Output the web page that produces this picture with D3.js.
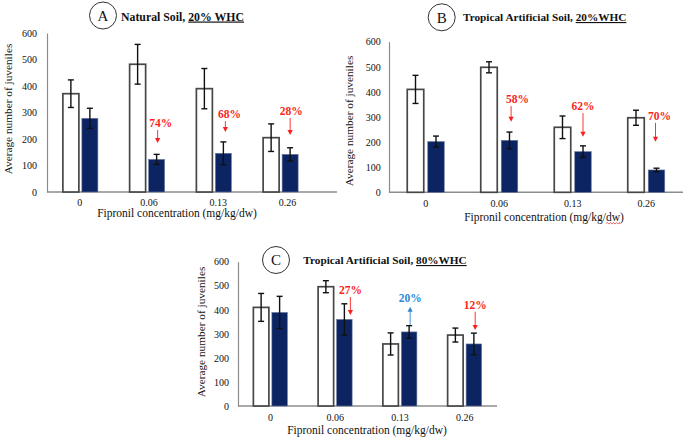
<!DOCTYPE html>
<html><head><meta charset="utf-8">
<script src="https://cdn.jsdelivr.net/npm/d3@7"></script>
<style>
html,body{margin:0;padding:0;background:#fff;}
svg{display:block;}
text{font-family:"Liberation Serif","Times New Roman",serif;}
</style></head>
<body><svg id="c" width="685" height="437"></svg>
<script>
// ---------- data ----------
const categories = ["0", "0.06", "0.13", "0.26"];
const yTicks = [0, 100, 200, 300, 400, 500, 600];

// Panel A: Natural Soil, 20% WHC
const naturalControl = [371, 482, 390, 205];
const naturalControlErr = [52, 75, 76, 52];
const naturalFipronil = [278, 123, 146, 142];
const naturalFipronilErr = [38, 19, 43, 25];
const naturalNotes = ["", "74%", "68%", "28%"];

// Panel B: Tropical Artificial Soil, 20% WHC
const tas20Control = [410, 498, 259, 297];
const tas20ControlErr = [56, 22, 45, 30];
const tas20Fipronil = [202, 207, 162, 89];
const tas20FipronilErr = [22, 33, 23, 7];
const tas20Notes = ["", "58%", "62%", "70%"];

// Panel C: Tropical Artificial Soil, 80% WHC
const tas80Control = [410, 496, 258, 295];
const tas80ControlErr = [58, 25, 46, 29];
const tas80Fipronil = [389, 360, 308, 258];
const tas80FipronilErr = [67, 65, 26, 45];
const tas80Notes = ["", "27%", "20%", "12%"];

const xTitle = "Fipronil concentration (mg/kg/dw)";
const yTitle = "Average number of juveniles";

// ---------- layout ----------
const NAVY = "#0c2461", RED = "#fb1f1f", BLUE = "#2f86d1";
const panels = [
  { letter: "A", pre: "Natural Soil, ", ul: "20% WHC",
    control: naturalControl, controlErr: naturalControlErr,
    treat: naturalFipronil, treatErr: naturalFipronilErr, notes: naturalNotes,
    x0: 47, x1: 314, axisEnd: 337, lab0: 45, lab1: 322, yTop: 33, yBot: 192,
    barW: 16, gap: 3,
    circle: [103, 15.5], titleX: 121, titleY: 20.5, titleSize: 11.8,
    yLab: [8, 109], xLab: [177, 217], tickY: 206, tickRight: 37, squiggle: false,
    ann: [null,
      { tip: 185, len: 13, dx: 1, tdx: 4, dir: "down", color: RED },
      { tip: 226, len: 11, dx: 2, tdx: 6, dir: "down", color: RED },
      { tip: 215, len: 17, dx: 0, tdx: 1, dir: "down", color: RED }] },
  { letter: "B", pre: "Tropical Artificial Soil, ", ul: "20%WHC",
    control: tas20Control, controlErr: tas20ControlErr,
    treat: tas20Fipronil, treatErr: tas20FipronilErr, notes: tas20Notes,
    x0: 389, x1: 683, axisEnd: 683, lab0: 389, lab1: 683, yTop: 41.7, yBot: 192.3,
    barW: 16.5, gap: 4,
    circle: [441.7, 17.3], titleX: 463, titleY: 21, titleSize: 11.25,
    yLab: [349.5, 121], xLab: [544, 221], tickY: 207, tickRight: 380.7, squiggle: true,
    ann: [null,
      { tip: 281, len: 15.7, dx: 1.6, tdx: 8, dir: "down", color: RED },
      { tip: 221, len: 23.7, dx: 0, tdx: 0, dir: "down", color: RED },
      { tip: 201, len: 19, dx: -1, tdx: 3, dir: "down", color: RED }] },
  { letter: "C", pre: "Tropical Artificial Soil, ", ul: "80%WHC",
    control: tas80Control, controlErr: tas80ControlErr,
    treat: tas80Fipronil, treatErr: tas80FipronilErr, notes: tas80Notes,
    x0: 238, x1: 497, axisEnd: 497, lab0: 238, lab1: 497, yTop: 261.7, yBot: 406,
    barW: 15.5, gap: 3,
    circle: [276, 260], titleX: 303.3, titleY: 264, titleSize: 11.25,
    yLab: [201.5, 332], xLab: [367, 433.5], tickY: 421, tickRight: 229, squiggle: false,
    ann: [null,
      { tip: 378, len: 18, dx: 6, tdx: 6, dir: "down", color: RED },
      { tip: 337, len: 18.3, dx: 1, tdx: 1, dir: "up", color: BLUE },
      { tip: 316, len: 18.3, dx: 1.3, tdx: 1.3, dir: "down", color: RED }] }
];

const svg = d3.select("#c");

panels.forEach(p => {
  const g = svg.append("g");
  const x = d3.scaleBand().domain(categories).range([p.x0, p.x1]);
  const xl = d3.scaleBand().domain(categories).range([p.lab0, p.lab1]);
  const y = d3.scaleLinear().domain([0, 600]).range([p.yBot, p.yTop]);

  // y axis
  const ya = g.append("g").attr("transform", `translate(${p.x0},0)`)
    .call(d3.axisLeft(y).tickValues(yTicks).tickSize(0).tickPadding(p.x0 - p.tickRight));
  ya.select(".domain").attr("stroke", "#8c8c8c").attr("stroke-width", 1.2);
  ya.selectAll("text").attr("font-size", 10).attr("fill", "#111")
    .attr("font-family", "'Liberation Serif',serif");

  // x axis line
  g.append("line").attr("x1", p.x0).attr("x2", p.axisEnd)
    .attr("y1", y(0)).attr("y2", y(0)).attr("stroke", "#8c8c8c").attr("stroke-width", 1.4);
  // x tick labels
  const xa = g.append("g").attr("transform", `translate(0,${y(0)})`)
    .call(d3.axisBottom(xl).tickSize(0).tickPadding(p.tickY - y(0) - 7.5));
  xa.select(".domain").remove();
  xa.selectAll("text").attr("font-size", 10).attr("fill", "#111")
    .attr("font-family", "'Liberation Serif',serif");

  const cx = i => x(categories[i]) + x.bandwidth() / 2;
  const wx = i => cx(i) - p.gap / 2 - p.barW;
  const nx = i => cx(i) + p.gap / 2;

  // control bars (white)
  g.selectAll(".wb").data(p.control).join("rect")
    .attr("x", (d, i) => wx(i)).attr("y", d => y(d))
    .attr("width", p.barW).attr("height", d => y(0) - y(d))
    .attr("fill", "#fff").attr("stroke", "#474747").attr("stroke-width", 1.7);
  // fipronil bars (navy)
  g.selectAll(".nb").data(p.treat).join("rect")
    .attr("x", (d, i) => nx(i)).attr("y", d => y(d))
    .attr("width", p.barW).attr("height", d => y(0) - y(d))
    .attr("fill", NAVY).attr("stroke", "#6878a0").attr("stroke-width", 0.6);

  // error bars
  const err = (vals, errs, xf) => {
    vals.forEach((v, i) => {
      const c = xf(i) + p.barW / 2, e = errs[i];
      const eg = g.append("g").attr("stroke", "#111").attr("stroke-width", 1.4);
      eg.append("line").attr("x1", c).attr("x2", c).attr("y1", y(v + e)).attr("y2", y(v - e));
      eg.append("line").attr("x1", c - 3).attr("x2", c + 3).attr("y1", y(v + e)).attr("y2", y(v + e));
      eg.append("line").attr("x1", c - 3).attr("x2", c + 3).attr("y1", y(v - e)).attr("y2", y(v - e));
    });
  };
  err(p.control, p.controlErr, wx);
  err(p.treat, p.treatErr, nx);

  // annotations
  p.notes.forEach((t, i) => {
    const a = p.ann[i];
    if (!t || !a) return;
    const ax = nx(i) + p.barW / 2 + a.dx;
    const tx = nx(i) + p.barW / 2 + a.tdx;
    let lineTop, lineBot, textY;
    if (a.dir === "down") {
      lineBot = y(a.tip); lineTop = lineBot - a.len; textY = lineTop - 3;
      g.append("line").attr("x1", ax).attr("x2", ax).attr("y1", lineTop).attr("y2", lineBot - 4)
        .attr("stroke", a.color).attr("stroke-width", 0.9);
      g.append("path").attr("d", `M${ax - 2.6},${lineBot - 5}L${ax + 2.6},${lineBot - 5}L${ax},${lineBot}Z`)
        .attr("fill", a.color);
    } else {
      lineBot = y(a.tip); lineTop = lineBot - a.len; textY = lineTop - 5;
      g.append("line").attr("x1", ax).attr("x2", ax).attr("y1", lineTop + 4).attr("y2", lineBot)
        .attr("stroke", a.color).attr("stroke-width", 0.9);
      g.append("path").attr("d", `M${ax - 2.6},${lineTop + 5}L${ax + 2.6},${lineTop + 5}L${ax},${lineTop}Z`)
        .attr("fill", a.color);
    }
    g.append("text").attr("x", tx).attr("y", textY).attr("text-anchor", "middle")
      .attr("font-size", 11.5).attr("font-weight", "bold").attr("fill", a.color).text(t);
  });

  // axis titles
  g.append("text").attr("transform", `translate(${p.yLab[0]},${p.yLab[1]}) rotate(-90)`)
    .attr("text-anchor", "middle").attr("dy", "0.35em").attr("font-size", 11.3).attr("fill", "#111")
    .text(yTitle);
  const xt = g.append("text").attr("x", p.xLab[0]).attr("y", p.xLab[1]).attr("text-anchor", "middle")
    .attr("font-size", 11.5).attr("fill", "#111").text(xTitle);
  if (p.squiggle) {
    const node = xt.node();
    const k = xTitle.indexOf("dw");
    const s = node.getStartPositionOfChar(k).x;
    const e = node.getEndPositionOfChar(k + 1).x;
    const yy = p.xLab[1] + 2.5;
    let d = `M${s},${yy}`;
    for (let xx = s, up = true; xx < e; xx += 1.5, up = !up) d += `L${Math.min(xx + 1.5, e)},${yy + (up ? -1 : 0.6)}`;
    g.append("path").attr("d", d).attr("fill", "none").attr("stroke", "#e03030").attr("stroke-width", 0.7);
  }

  // panel title
  g.append("circle").attr("cx", p.circle[0]).attr("cy", p.circle[1]).attr("r", 13.5)
    .attr("fill", "#fff").attr("stroke", "#333").attr("stroke-width", 1);
  g.append("text").attr("x", p.circle[0]).attr("y", p.circle[1]).attr("dy", "0.36em")
    .attr("text-anchor", "middle").attr("font-size", 15).attr("fill", "#111").text(p.letter);
  const tt = g.append("text").attr("x", p.titleX).attr("y", p.titleY)
    .attr("font-size", p.titleSize).attr("font-weight", "bold").attr("fill", "#111");
  tt.append("tspan").text(p.pre);
  tt.append("tspan").style("text-decoration", "underline").text(p.ul);
});
</script></body></html>
